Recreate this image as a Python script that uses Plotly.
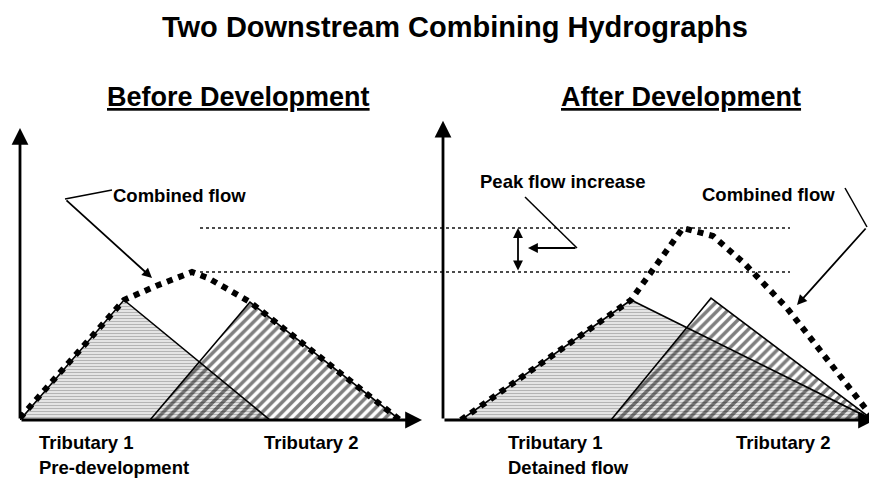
import plotly.graph_objects as go

W, H = 877, 485
OFF = 8  # the page body places the figure 8 px from the window's top-left corner

# ---------------- data (time in hours, flow in relative units) ----------------
before_t1_time = [0.0, 2.6, 6.25]
before_t1_flow = [0.0, 3.0, 0.0]
before_t2_time = [3.25, 5.75, 9.5]
before_t2_flow = [0.0, 2.95, 0.0]
before_comb_time = [0.0, 2.6, 3.4, 4.3, 4.7, 5.3, 5.75, 9.5]
before_comb_flow = [0.05, 3.0, 3.35, 3.7, 3.55, 3.2, 2.95, 0.0]

after_t1_time = [0.45, 4.7, 10.75]
after_t1_flow = [0.0, 3.0, 0.0]
after_t2_time = [4.2, 6.7, 10.75]
after_t2_flow = [0.0, 3.05, 0.0]
after_comb_time = [0.45, 4.7, 6.0, 6.75, 7.55, 8.6, 10.75]
after_comb_flow = [0.0, 3.0, 4.8, 4.6, 3.9, 2.8, 0.05]

peak_before = max(before_comb_flow)
peak_after = max(after_comb_flow)

FONT = "Liberation Sans, Arial, sans-serif"


def px(x):
    return (x - OFF) / W


def py(y):
    return 1 - (y - OFF) / H


fig = go.Figure()


def add_panel(xa, ya, t1x, t1y, t2x, t2y, cx, cy):
    fig.add_trace(go.Scatter(
        x=t1x, y=t1y, xaxis=xa, yaxis=ya, mode="lines", fill="toself",
        fillcolor="#eeeeee",
        fillpattern=dict(shape="-", fgcolor="#7a7a7a", bgcolor="#eeeeee",
                         size=3, solidity=0.45),
        line=dict(color="black", width=1.6), hoverinfo="skip", showlegend=False))
    fig.add_trace(go.Scatter(
        x=t2x, y=t2y, xaxis=xa, yaxis=ya, mode="lines", fill="toself",
        fillcolor="rgba(0,0,0,0)",
        fillpattern=dict(shape="/", fgcolor="#000000", bgcolor="rgba(0,0,0,0)",
                         size=7, solidity=0.5),
        line=dict(color="black", width=1.6), hoverinfo="skip", showlegend=False))
    fig.add_trace(go.Scatter(
        x=cx, y=cy, xaxis=xa, yaxis=ya, mode="lines",
        line=dict(color="black", width=6, dash="6px,6px"),
        hoverinfo="skip", showlegend=False))


add_panel("x", "y", before_t1_time, before_t1_flow, before_t2_time, before_t2_flow,
          before_comb_time, before_comb_flow)
add_panel("x2", "y2", after_t1_time, after_t1_flow, after_t2_time, after_t2_flow,
          after_comb_time, after_comb_flow)

ydom = [py(420), py(110)]
fig.update_layout(
    width=W, height=H,
    margin=dict(l=0, r=0, t=0, b=0),
    paper_bgcolor="white", plot_bgcolor="rgba(0,0,0,0)",
    xaxis=dict(domain=[px(20), px(430)], range=[0, 10.25], visible=False, fixedrange=True),
    yaxis=dict(domain=ydom, range=[0, 7.75], visible=False, fixedrange=True),
    xaxis2=dict(domain=[px(443), px(877)], range=[0, 10.85], visible=False, fixedrange=True,
                anchor="y2"),
    yaxis2=dict(domain=ydom, range=[0, 7.75], visible=False, fixedrange=True, anchor="x2"),
    font=dict(family=FONT, color="black"),
)

annotations = []
shapes = []

# axes with arrowheads
for xr, yr, xt, yt in [("x", "y", 10.05, 7.3), ("x2", "y2", 10.8, 7.48)]:
    annotations.append(dict(x=xt, y=0, ax=0, ay=0, xref=xr, yref=yr, axref=xr, ayref=yr,
                            text="", showarrow=True, arrowhead=2, arrowsize=1.2,
                            arrowwidth=2.8, arrowcolor="black", standoff=0))
    annotations.append(dict(x=0, y=yt, ax=0, ay=0, xref=xr, yref=yr, axref=xr, ayref=yr,
                            text="", showarrow=True, arrowhead=2, arrowsize=1.2,
                            arrowwidth=2.8, arrowcolor="black", standoff=0))

# peak reference dotted lines spanning both panels
for level in (peak_after, peak_before):
    shapes.append(dict(type="line", xref="paper", yref="y", x0=px(200), x1=px(790),
                       y0=level, y1=level, line=dict(color="#111", width=1.5, dash="dot")))

# double arrow showing peak increase
annotations.append(dict(x=1.875, y=peak_after, ax=1.875, ay=peak_before,
                        xref="x2", yref="y2", axref="x2", ayref="y2", text="",
                        showarrow=True, arrowhead=2, arrowside="end+start",
                        arrowsize=1.1, arrowwidth=1.8, arrowcolor="black", standoff=0,
                        startstandoff=0))

# pointer: Peak flow increase
shapes.append(dict(type="line", xref="x2", yref="y2", x0=2.05, y0=5.575, x1=3.35, y1=4.3,
                   line=dict(color="black", width=1.5)))
annotations.append(dict(x=2.125, y=4.3, ax=3.35, ay=4.3, xref="x2", yref="y2",
                        axref="x2", ayref="y2", text="", showarrow=True, arrowhead=2,
                        arrowsize=1.1, arrowwidth=1.8, arrowcolor="black", standoff=0))

# pointer: Combined flow (left)
shapes.append(dict(type="line", xref="x", yref="y", x0=2.3, y0=5.75, x1=1.125, y1=5.525,
                   line=dict(color="black", width=1.5)))
annotations.append(dict(x=3.3, y=3.55, ax=1.125, ay=5.525, xref="x", yref="y",
                        axref="x", ayref="y", text="", showarrow=True, arrowhead=2,
                        arrowsize=1.1, arrowwidth=1.8, arrowcolor="black", standoff=0))

# pointer: Combined flow (right)
shapes.append(dict(type="line", xref="x2", yref="y2", x0=10.05, y0=5.8, x1=10.6, y1=4.825,
                   line=dict(color="black", width=1.5)))
annotations.append(dict(x=8.85, y=2.875, ax=10.6, ay=4.825, xref="x2", yref="y2",
                        axref="x2", ayref="y2", text="", showarrow=True, arrowhead=2,
                        arrowsize=1.1, arrowwidth=1.8, arrowcolor="black", standoff=0))


def label(text, x, y, size, xanchor="left"):
    annotations.append(dict(text=text, x=px(x), y=py(y), xref="paper", yref="paper",
                            xanchor=xanchor, yanchor="middle", showarrow=False,
                            font=dict(family=FONT, size=size, color="black")))


label("<b>Two Downstream Combining Hydrographs</b>", 455, 27, 29, "center")
label("<b><u>Before Development</u></b>", 238, 97, 27, "center")
label("<b><u>After Development</u></b>", 681, 97, 27, "center")
label("<b>Combined flow</b>", 111, 196, 18.5)
label("<b>Peak flow increase</b>", 563, 181, 18.5, "center")
label("<b>Combined flow</b>", 768, 195, 18.5, "center")
label("<b>Tributary 1</b>", 37, 442, 18.5)
label("<b>Pre-development</b>", 37, 467, 18.5)
label("<b>Tributary 2</b>", 262, 442, 18.5)
label("<b>Tributary 1</b>", 506, 442, 18.5)
label("<b>Detained flow</b>", 506, 467, 18.5)
label("<b>Tributary 2</b>", 734, 442, 18.5)

fig.update_layout(annotations=annotations, shapes=shapes)

fig.write_html("out.html")
